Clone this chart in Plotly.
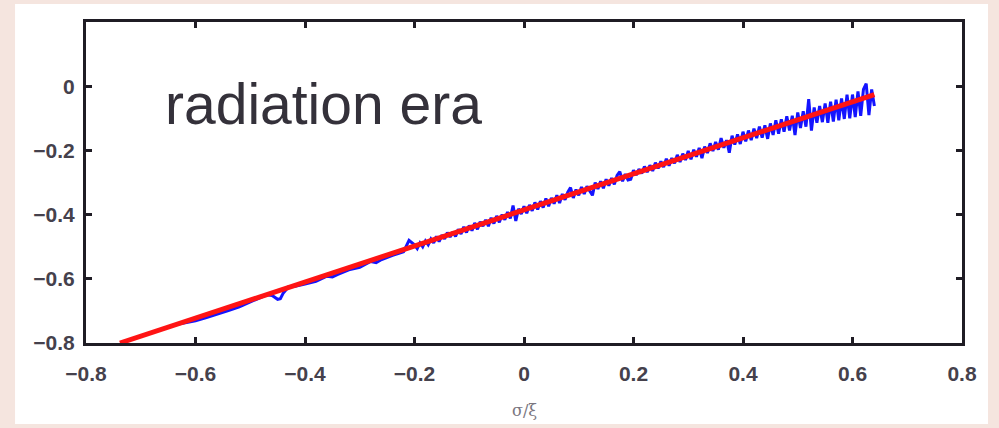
import plotly.graph_objects as go

# Simulated curve: sigma/xi on x, log ratio on y
sim_x = [
    -0.64, -0.62, -0.60, -0.58, -0.56, -0.54, -0.52, -0.50, -0.48, -0.47,
    -0.46, -0.45, -0.445, -0.44, -0.43, -0.42, -0.40, -0.38, -0.36, -0.35,
    -0.34, -0.32, -0.30, -0.28, -0.27, -0.26, -0.24, -0.22, -0.21, -0.20,
    -0.195, -0.19, -0.185, -0.18, -0.175, -0.17, -0.165, -0.16, -0.155, -0.15,
    -0.145, -0.14, -0.135, -0.13, -0.125, -0.12, -0.115, -0.11, -0.105, -0.10,
    -0.095, -0.09, -0.085, -0.08, -0.075, -0.07, -0.065, -0.06, -0.055, -0.05,
    -0.045, -0.04, -0.035, -0.03, -0.025, -0.02, -0.015, -0.01, -0.005, 0.00,
    0.005, 0.01, 0.015, 0.02, 0.025, 0.03, 0.035, 0.04, 0.045, 0.05,
    0.055, 0.06, 0.065, 0.07, 0.075, 0.08, 0.085, 0.09, 0.095, 0.10,
    0.105, 0.11, 0.115, 0.12, 0.125, 0.13, 0.135, 0.14, 0.145, 0.15,
    0.155, 0.16, 0.165, 0.17, 0.175, 0.18, 0.185, 0.19, 0.195, 0.20,
    0.205, 0.21, 0.215, 0.22, 0.225, 0.23, 0.235, 0.24, 0.245, 0.25,
    0.255, 0.26, 0.265, 0.27, 0.275, 0.28, 0.285, 0.29, 0.295, 0.30,
    0.305, 0.31, 0.315, 0.32, 0.325, 0.33, 0.335, 0.34, 0.345, 0.35,
    0.355, 0.36, 0.365, 0.37, 0.375, 0.38, 0.385, 0.39, 0.395, 0.40,
    0.405, 0.41, 0.415, 0.42, 0.425, 0.43, 0.435, 0.44, 0.445, 0.45,
    0.455, 0.46, 0.465, 0.47, 0.475, 0.48, 0.485, 0.49, 0.495, 0.50,
    0.505, 0.51, 0.515, 0.52, 0.525, 0.53, 0.535, 0.54, 0.545, 0.55,
    0.555, 0.56, 0.565, 0.57, 0.575, 0.58, 0.585, 0.59, 0.595, 0.60,
    0.605, 0.61, 0.615, 0.62, 0.625, 0.63, 0.635, 0.64,
]
sim_y = [
    -0.744, -0.738, -0.731, -0.721, -0.711, -0.699, -0.687, -0.672, -0.655, -0.650,
    -0.652, -0.664, -0.662, -0.645, -0.625, -0.624, -0.616, -0.608, -0.592, -0.594,
    -0.586, -0.572, -0.564, -0.546, -0.550, -0.540, -0.527, -0.516, -0.480, -0.494,
    -0.506, -0.488, -0.500, -0.482, -0.494, -0.476, -0.488, -0.468, -0.484, -0.464,
    -0.476, -0.456, -0.470, -0.454, -0.468, -0.446, -0.460, -0.438, -0.456, -0.434,
    -0.450, -0.426, -0.446, -0.422, -0.436, -0.416, -0.436, -0.410, -0.428, -0.404,
    -0.424, -0.400, -0.416, -0.392, -0.412, -0.372, -0.420, -0.382, -0.398, -0.374,
    -0.396, -0.370, -0.388, -0.362, -0.384, -0.358, -0.378, -0.350, -0.374, -0.348,
    -0.366, -0.340, -0.364, -0.336, -0.354, -0.330, -0.316, -0.348, -0.322, -0.340,
    -0.314, -0.336, -0.312, -0.328, -0.340, -0.300, -0.320, -0.296, -0.318, -0.290,
    -0.310, -0.286, -0.306, -0.278, -0.266, -0.296, -0.274, -0.292, -0.290, -0.262,
    -0.277, -0.258, -0.272, -0.250, -0.268, -0.246, -0.264, -0.238, -0.256, -0.234,
    -0.252, -0.226, -0.248, -0.224, -0.240, -0.214, -0.236, -0.210, -0.230, -0.202,
    -0.228, -0.198, -0.220, -0.192, -0.224, -0.188, -0.208, -0.178, -0.202, -0.174,
    -0.198, -0.162, -0.192, -0.168, -0.207, -0.154, -0.182, -0.150, -0.180, -0.142,
    -0.172, -0.138, -0.168, -0.132, -0.162, -0.126, -0.160, -0.122, -0.164, -0.116,
    -0.152, -0.106, -0.148, -0.103, -0.142, -0.094, -0.138, -0.092, -0.152, -0.082,
    -0.130, -0.078, -0.126, -0.040, -0.138, -0.066, -0.114, -0.062, -0.112, -0.054,
    -0.114, -0.048, -0.110, -0.042, -0.106, -0.038, -0.102, -0.026, -0.100, -0.026,
    -0.096, -0.016, -0.092, -0.010, 0.008, -0.090, -0.010, -0.062,
]

# Linear fit end points
fit_x = [-0.738, 0.640]
fit_y = [-0.800, -0.026]

x_ticks = [-0.8, -0.6, -0.4, -0.2, 0, 0.2, 0.4, 0.6, 0.8]
x_tick_text = ["\u22120.8", "\u22120.6", "\u22120.4", "\u22120.2", "0", "0.2", "0.4", "0.6", "0.8"]
y_ticks = [-0.8, -0.6, -0.4, -0.2, 0]
y_tick_text = ["\u22120.8", "\u22120.6", "\u22120.4", "\u22120.2", "0"]

frame = "#1f1c24"
label_col = "#45414c"

fig = go.Figure()
fig.add_trace(go.Scatter(
    x=sim_x, y=sim_y, mode="lines",
    line=dict(color="#1414ff", width=3),
    showlegend=False, hoverinfo="skip",
))
fig.add_trace(go.Scatter(
    x=fit_x, y=fit_y, mode="lines",
    line=dict(color="#ff1414", width=5),
    showlegend=False, hoverinfo="skip",
))

axis_common = dict(
    showgrid=False, zeroline=False,
    showline=True, linecolor=frame, linewidth=3, mirror="ticks",
    ticks="inside", ticklen=6, tickwidth=2.5, tickcolor=frame,
    tickfont=dict(family="Liberation Sans, Arial, sans-serif", size=21,
                  color=label_col, weight="bold"),
)

fig.update_layout(
    width=999, height=428,
    margin=dict(l=86, r=37, t=22, b=85),
    paper_bgcolor="#f5e5df",
    plot_bgcolor="#ffffff",
    xaxis=dict(range=[-0.8, 0.8], tickvals=x_ticks, ticktext=x_tick_text,
               ticklabelstandoff=10, **axis_common),
    yaxis=dict(range=[-0.8, 0.2], tickvals=y_ticks, ticktext=y_tick_text,
               ticklabelstandoff=4, **axis_common),
    shapes=[dict(
        type="rect", xref="paper", yref="paper",
        x0=-0.081, x1=1.0297, y0=-0.252, y1=1.056,
        fillcolor="#ffffff", line=dict(width=0), layer="below",
    )],
    annotations=[
        dict(text="radiation era", xref="paper", yref="paper",
             x=0.0879, y=0.745, xanchor="left", yanchor="middle",
             showarrow=False,
             font=dict(family="Liberation Sans, Arial, sans-serif", size=57, color="#34313a")),
        dict(text="\u03c3/\u03be", xref="paper", yref="paper",
             x=0.5, y=-0.209, xanchor="center", yanchor="middle",
             showarrow=False,
             font=dict(family="DejaVu Serif, serif", size=16, color="#7a7680")),
    ],
)

fig.write_html("out.html")
